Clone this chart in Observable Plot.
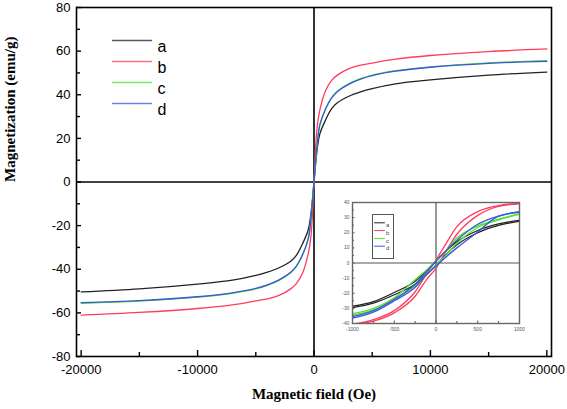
<!DOCTYPE html>
<html><head><meta charset="utf-8">
<script src="https://cdn.jsdelivr.net/npm/d3@7"></script>
<script src="https://cdn.jsdelivr.net/npm/@observablehq/plot@0.6"></script>
<style>
body{margin:0;background:#fff;}
#wrap{position:relative;width:567px;height:409px;overflow:hidden;}
#inset{position:absolute;left:330px;top:195px;}
svg{display:block;}
</style></head><body><div id="wrap"><div id="main"></div><div id="inset"></div></div>
<script>
// ---- data ----
const series = ["a", "b", "c", "d"];
const colors = ["#222222", "#ff3b5f", "#4ee62e", "#3a55e0"];

const field = [-20000, -15000, -10000, -7000, -5000, -4000, -3000, -2000, -1500, -1000, -500, -250, 0, 250, 500, 1000, 1500, 2000, 3000, 4000, 5000, 7000, 10000, 15000, 20000];
const magA = [-50.4, -49, -46.8, -45, -42.8, -41.3, -39.3, -36.3, -33.5, -28.5, -22, -14, 0, 14, 22, 28.5, 33.5, 36.3, 39.3, 41.3, 42.8, 45, 46.8, 49, 50.4];
const magB = [-61, -59.8, -58, -56.3, -54.5, -53.6, -52, -49, -46.5, -42, -33, -24, 0, 24, 33, 42, 46.5, 49, 52, 53.6, 54.5, 56.3, 58, 59.8, 61];
const magC = [-55.6, -54.6, -52.8, -51, -49, -47.4, -45.1, -41.6, -38.6, -33.5, -26, -16, 0, 16, 26, 33.5, 38.6, 41.6, 45.1, 47.4, 49, 51, 52.8, 54.6, 55.6];
const magD = [-55.3, -54.4, -52.6, -50.8, -48.8, -47.2, -44.9, -41.4, -38.4, -33.6, -26.2, -16.3, 0, 16.3, 26.2, 33.6, 38.4, 41.4, 44.9, 47.2, 48.8, 50.8, 52.6, 54.4, 55.3];

const xTicks = [-20000, -10000, 0, 10000, 20000];
const xMinor = [-15000, -5000, 5000, 15000];
const yTicks = [-80, -60, -40, -20, 0, 20, 40, 60, 80];
const yMinor = [-70, -50, -30, -10, 10, 30, 50, 70];

// inset: low-field hysteresis loops (descending and ascending branches)
const insetField = [-1000, -750, -500, -250, -100, 0, 100, 250, 500, 750, 1000];
const insetAUp = [-28.5, -25.5, -19.5, -12, -4.5, 1.5, 7, 14, 21.5, 25.8, 28.2];
const insetADown = [-29.5, -26.5, -21, -14, -7, -1.5, 4.5, 12, 20, 24.8, 27.6];
const insetBUp = [-40.5, -37.5, -31.5, -19, -6, 2, 11, 24, 34, 38, 39.5];
const insetBDown = [-40.8, -38.5, -33, -22, -10, -3.5, 6, 19, 31.5, 37.5, 39.2];
const insetCUp = [-33.5, -30, -23, -11, -4, 1.5, 7, 16.5, 24.5, 29, 32.6];
const insetCDown = [-34.5, -31, -24, -15, -7, -1.5, 4, 13, 23.5, 28.5, 32.3];
const insetDUp = [-35.5, -31.5, -24, -14, -5, 1, 7, 15, 25.6, 31, 34];
const insetDDown = [-36.5, -32.5, -25, -16, -7, -2, 3, 10, 20.5, 31, 33.6];

const insetXTicks = [-1000, -500, 0, 500, 1000];
const insetXMinor = [-750, -250, 250, 750];
const insetYTicks = [-40, -30, -20, -10, 0, 10, 20, 30, 40];
const insetYMinor = [-35, -25, -15, -5, 5, 15, 25, 35];

// ---- build tables ----
const mainVals = [magA, magB, magC, magD];
const mainRows = series.flatMap((s, k) => field.map((h, i) => ({h, m: mainVals[k][i], s})));
const insetUp = [insetAUp, insetBUp, insetCUp, insetDUp];
const insetDown = [insetADown, insetBDown, insetCDown, insetDDown];
const insetRows = series.flatMap((s, k) => [
  ...insetField.map((h, i) => ({h, m: insetUp[k][i], s, z: s + "u"})),
  ...insetField.map((h, i) => ({h, m: insetDown[k][i], s, z: s + "d"}))
]);

const hline = {draw(context, l) { context.moveTo(0, 0); context.lineTo(l, 0); }};
const fmt = d => String(d);

const main = Plot.plot({
  width: 567, height: 409,
  marginLeft: 76, marginRight: 16, marginTop: 7, marginBottom: 53,
  x: {domain: [-20400, 20400]},
  y: {domain: [-80, 80]},
  color: {domain: series, range: colors},
  style: {fontFamily: "'Liberation Sans', Arial, sans-serif", fontSize: "13px", color: "#000", background: "white"},
  marks: [
    Plot.ruleY([0], {stroke: "#000", strokeWidth: 1.6}),
    Plot.ruleX([0], {stroke: "#000", strokeWidth: 1.6}),
    Plot.line(mainRows, {x: "h", y: "m", z: "s", stroke: "s", curve: "catmull-rom", strokeWidth: 1.3}),
    Plot.axisX(xTicks, {tickSize: 0, tickPadding: 8, label: null, fontSize: 13, tickFormat: fmt}),
    Plot.axisX(xTicks, {tickSize: -6, tickFormat: () => "", label: null, strokeWidth: 1.4}),
    Plot.axisX(xMinor, {tickSize: -4, tickFormat: () => "", label: null, strokeWidth: 1.4}),
    Plot.axisY(yTicks, {tickSize: 0, tickPadding: 6, label: null, fontSize: 13, tickFormat: fmt}),
    Plot.axisY(yTicks, {tickSize: -5, tickFormat: () => "", label: null, strokeWidth: 1.4}),
    Plot.axisY(yMinor, {tickSize: -4, tickFormat: () => "", label: null, strokeWidth: 1.4}),
    Plot.frame({stroke: "#000", strokeWidth: 1.6}),
    Plot.text(["Magnetic field (Oe)"], {frameAnchor: "bottom", dy: 42, text: d => d, fontWeight: "bold", fontFamily: "'Liberation Serif', 'Times New Roman', serif", fontSize: 15}),
    Plot.text(["Magnetization (emu/g)"], {frameAnchor: "left", dx: -66, rotate: -90, text: d => d, fontWeight: "bold", fontFamily: "'Liberation Serif', 'Times New Roman', serif", fontSize: 15}),
    ...series.map((s, i) => Plot.vector([s], {frameAnchor: "top-left", dx: 36, dy: 33 + 21 * i, length: 39, anchor: "start", shape: hline, stroke: colors[i], strokeWidth: 1.3, strokeOpacity: 0.75})),
    ...series.map((s, i) => Plot.text([s], {frameAnchor: "top-left", dx: 81, dy: 33 + 21 * i, text: d => d, textAnchor: "start", fontSize: 16}))
  ]
});
document.getElementById("main").append(main);

const inset = Plot.plot({
  width: 195, height: 145,
  marginLeft: 22, marginRight: 6, marginTop: 7, marginBottom: 17,
  x: {domain: [-1000, 1000]},
  y: {domain: [-40, 40]},
  color: {domain: series, range: colors},
  style: {fontFamily: "'Liberation Sans', Arial, sans-serif", fontSize: "5px", color: "#555", background: "transparent"},
  marks: [
    Plot.ruleY([0], {stroke: "#555", strokeWidth: 1.2}),
    Plot.ruleX([0], {stroke: "#555", strokeWidth: 1.2}),
    Plot.line(insetRows, {x: "h", y: "m", z: "z", stroke: "s", curve: "monotone-x", strokeWidth: 1.3, clip: true}),
    Plot.axisX(insetXTicks, {tickSize: 0, tickPadding: 4, label: null, fontSize: 5, fill: "#556", tickFormat: fmt}),
    Plot.axisX(insetXTicks, {tickSize: -2.5, tickFormat: () => "", label: null, stroke: "#555"}),
    Plot.axisX(insetXMinor, {tickSize: -2, tickFormat: () => "", label: null, stroke: "#555"}),
    Plot.axisY(insetYTicks, {tickSize: 0, tickPadding: 3, label: null, fontSize: 5, fill: "#556", tickFormat: fmt}),
    Plot.axisY(insetYTicks, {tickSize: -2.5, tickFormat: () => "", label: null, stroke: "#555"}),
    Plot.axisY(insetYMinor, {tickSize: -2, tickFormat: () => "", label: null, stroke: "#555"}),
    Plot.frame({stroke: "#666", strokeWidth: 1.4}),
    Plot.frame({stroke: "#555", strokeWidth: 1, insetLeft: 20, insetRight: 126, insetTop: 12, insetBottom: 65}),
    ...series.map((s, i) => Plot.vector([s], {frameAnchor: "top-left", dx: 22, dy: 20.3 + 7.8 * i, length: 10, anchor: "start", shape: hline, stroke: colors[i], strokeWidth: 1})),
    ...series.map((s, i) => Plot.text([s], {frameAnchor: "top-left", dx: 33.5, dy: 20.3 + 7.8 * i, text: d => d, textAnchor: "start", fontSize: 6, fill: "#446"}))
  ]
});
document.getElementById("inset").append(inset);
</script>
</body></html>
